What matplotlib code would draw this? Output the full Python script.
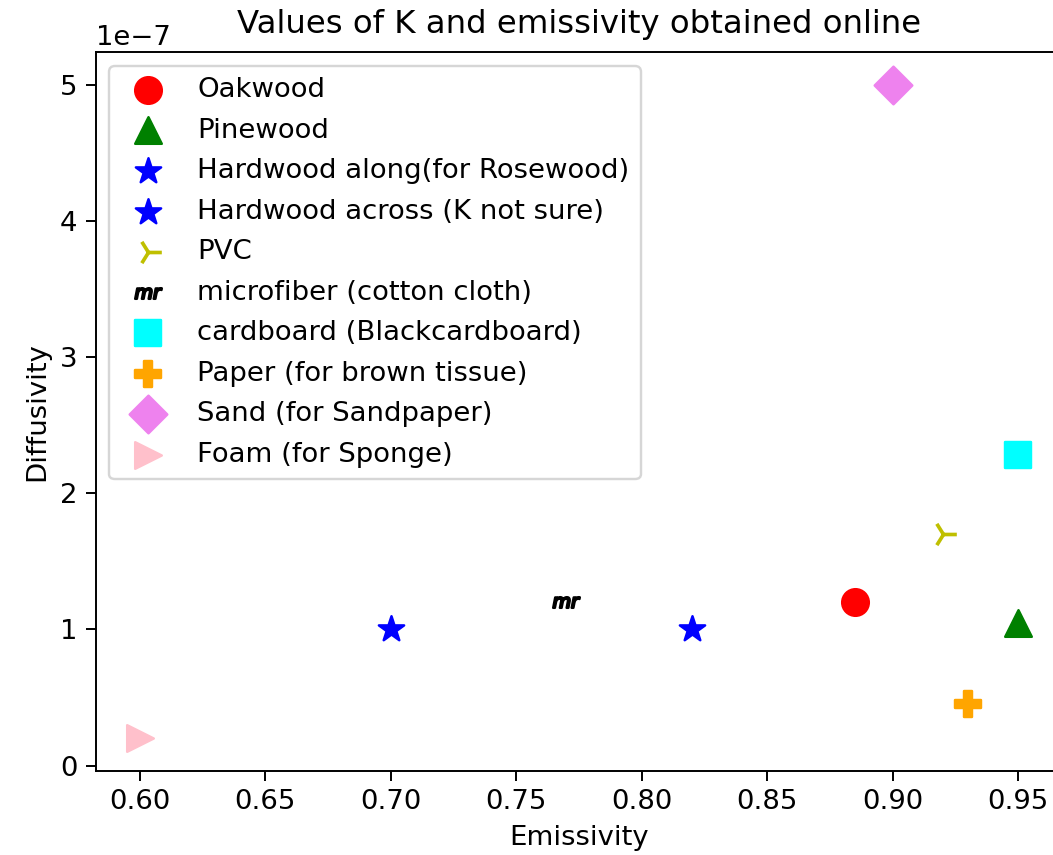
import matplotlib
matplotlib.use("Agg")
import matplotlib.pyplot as plt

# ----------------------------
# DATA
# ----------------------------
materials = [
    "Oakwood",
    "Pinewood",
    "Hardwood along(for Rosewood)",
    "Hardwood across (K not sure)",
    "PVC",
    "microfiber (cotton cloth)",
    "cardboard (Blackcardboard)",
    "Paper (for brown tissue)",
    "Sand (for Sandpaper)",
    "Foam (for Sponge)",
]
emissivity = [0.885, 0.95, 0.70, 0.82, 0.92, 0.77, 0.95, 0.93, 0.90, 0.60]
diffusivity = [1.2e-7, 1.05e-7, 1.0e-7, 1.0e-7, 1.7e-7, 1.2e-7, 2.28e-7, 0.45e-7, 5.0e-7, 0.2e-7]

markers = ["o", "^", "*", "*", "4", "$mr$", "s", "P", "D", ">"]
colors = ["red", "green", "blue", "blue", "y", "black", "cyan", "orange", "violet", "pink"]

# ----------------------------
# PLOT
# ----------------------------
plt.rcParams["font.size"] = 11.3
plt.rcParams["xtick.major.size"] = 4
plt.rcParams["ytick.major.size"] = 4

DPI = 175
fig = plt.figure(figsize=(1053 / DPI, 855 / DPI), dpi=DPI)
# the axes run a little past the right edge, as in the cropped original
ax = fig.add_axes([0.0909, 0.0982, 0.9176, 0.8406])

for name, x, y, m, c in zip(materials, emissivity, diffusivity, markers, colors):
    ax.scatter(x, y, marker=m, color=c, s=120, label=name)

ax.set_xlim(0.5825, 0.9675)
ax.set_title("Values of K and emissivity obtained online", fontsize=13.3, pad=8)
ax.set_xlabel("Emissivity")
ax.set_ylabel("Diffusivity")
ax.legend(loc="upper left", labelspacing=0.53)

fig.savefig("out.png", dpi=DPI)
